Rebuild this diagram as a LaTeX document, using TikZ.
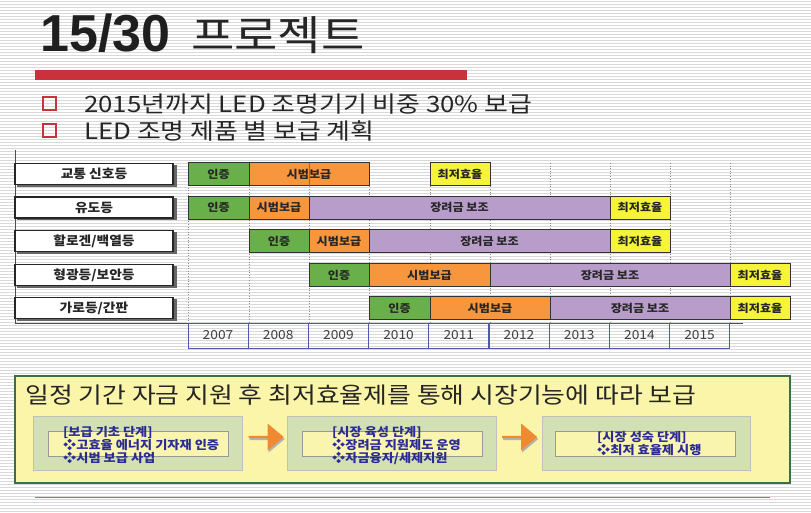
\documentclass[tikz,border=0pt]{standalone}
\usepackage{fontspec}
\setmainfont{Noto Sans CJK KR}
\newfontfamily\latinb{Liberation Sans}
\newfontfamily\wide[FakeStretch=1.15]{Noto Sans CJK KR}
\newfontfamily\wider[FakeStretch=1.1]{Noto Sans CJK KR}
\usetikzlibrary{shapes.arrows}
\definecolor{barG}{HTML}{6AB04A}
\definecolor{barO}{HTML}{F7963C}
\definecolor{barP}{HTML}{B89DCB}
\definecolor{barY}{HTML}{F6F43A}
\definecolor{redbar}{HTML}{C9323C}
\definecolor{yearblue}{HTML}{5057B0}
\definecolor{navy}{HTML}{2B2B96}
\definecolor{paleY}{HTML}{FBF5AA}
\definecolor{stageG}{HTML}{D3E0B4}
\definecolor{innerY}{HTML}{F9F4AE}
\definecolor{frameG}{HTML}{3C6E48}
\definecolor{arrowO}{HTML}{F08A32}
\tikzset{
  stripe/.style={draw=black!15, line width=1pt},
  labelbox/.style={draw=black!85, line width=1.6pt, fill=white, minimum width=158pt, minimum height=21pt, inner sep=0pt, font=\wider\bfseries\fontsize{12.5}{13}\selectfont, text=black!85},
  bar/.style={draw=black!80, line width=0.8pt, minimum height=23pt, inner sep=0pt, font=\wider\bfseries\fontsize{11}{12}\selectfont, text=black!85},
  yearcell/.style={draw=yearblue, line width=0.9pt, minimum width=60pt, minimum height=25pt, inner sep=0pt, font=\wider\fontsize{12.5}{13}\selectfont, text=black!75},
  grid/.style={draw=black!45, dotted, line width=0.6pt},
  stagebox/.style={fill=stageG, draw=black!25, line width=0.6pt, minimum width=209pt, minimum height=54pt, inner sep=0pt},
  innerbox/.style={fill=innerY, draw=black!40, line width=0.8pt, minimum width=180pt, minimum height=25pt, inner sep=0pt},
  stagetext/.style={align=left, font=\wider\bfseries\fontsize{12}{13}\selectfont, text=navy, inner sep=0pt, anchor=north west},
  blockarrow/.style={single arrow, fill=arrowO, draw=none, minimum width=27pt, minimum height=35pt, single arrow head extend=2pt, single arrow tip angle=80, inner sep=0pt}
}
\begin{document}
\begin{tikzpicture}[x=1pt,y=-1pt]
\useasboundingbox (0,0) rectangle (811,512);
\fill[white] (0,0) rectangle (811,512);
\foreach \yy in {1,4,...,511} \draw[stripe] (0,\yy) -- (811,\yy);
% title
\node[anchor=base west, inner sep=0pt, font=\latinb\bfseries\fontsize{52}{52}\selectfont, text=black!88] (t1) at (40,51) {15/30};
\node[anchor=base west, inner sep=0pt, font=\wide\fontsize{41}{41}\selectfont, text=black!85] (t2) at (191,50) {프로젝트};
\fill[redbar] (35,70) rectangle (467,80);
% bullets
\draw[redbar, line width=1.5pt] (43,97) rectangle (56,110);
\draw[redbar, line width=1.5pt] (43,124) rectangle (56,137);
\node[anchor=base west, inner sep=0pt, font=\wide\fontsize{22.5}{22}\selectfont, text=black!85] (b1) at (84,112) {2015년까지 LED 조명기기 비중 30\% 보급};
\node[anchor=base west, inner sep=0pt, font=\wide\fontsize{22.5}{22}\selectfont, text=black!85] (b2) at (84,139) {LED 조명 제품 별 보급 계획};
% frame lines
\draw[black!70, line width=0.8pt] (15,150) -- (15,323) -- (743,323);
% grid
\foreach \xx in {249,309,369,430,490,550,610,670,730} \draw[grid] (\xx,163) -- (\xx,323);
\draw[grid] (188,185) -- (188,323);
% labels
\foreach \n/\yy/\t in {1/174/{교통 신호등}, 2/207.5/{유도등}, 3/241/{할로겐/백열등}, 4/275/{형광등/보안등}, 5/308/{가로등/간판}}{
  \fill[black!60] (17,\yy-9.5) rectangle (177,\yy+12.5);
  \node[labelbox] (lab\n) at (94,\yy) {\t};
}
% row 1
\node[bar, fill=barG, minimum width=61pt] (r1a) at (218.5,174) {인증};
\node[bar, fill=barO, minimum width=120pt] (r1b) at (309,174) {시범보급};
\draw[black!55, line width=0.6pt] (309,162.5) -- (309,185.5);
\node[bar, fill=barY, minimum width=60pt] (r1c) at (460,174) {최저효율};
% row 2
\node[bar, fill=barG, minimum width=61pt] (r2a) at (218.5,207.5) {인증};
\node[bar, fill=barO, minimum width=60pt] (r2b) at (279,207.5) {시범보급};
\node[bar, fill=barP, minimum width=301pt] (r2c) at (459.5,207.5) {장려금 보조};
\node[bar, fill=barY, minimum width=60pt] (r2d) at (640,207.5) {최저효율};
% row 3
\node[bar, fill=barG, minimum width=60pt] (r3a) at (279,241) {인증};
\node[bar, fill=barO, minimum width=60pt] (r3b) at (339,241) {시범보급};
\node[bar, fill=barP, minimum width=241pt] (r3c) at (489.5,241) {장려금 보조};
\node[bar, fill=barY, minimum width=60pt] (r3d) at (640,241) {최저효율};
% row 4
\node[bar, fill=barG, minimum width=60pt] (r4a) at (339,275) {인증};
\node[bar, fill=barO, minimum width=121pt] (r4b) at (429.5,275) {시범보급};
\node[bar, fill=barP, minimum width=240pt] (r4c) at (610,275) {장려금 보조};
\node[bar, fill=barY, minimum width=60pt] (r4d) at (760,275) {최저효율};
% row 5
\node[bar, fill=barG, minimum width=61pt] (r5a) at (399.5,308) {인증};
\node[bar, fill=barO, minimum width=120pt] (r5b) at (490,308) {시범보급};
\node[bar, fill=barP, minimum width=180pt] (r5c) at (640,308) {장려금 보조};
\node[bar, fill=barY, minimum width=60pt] (r5d) at (760,308) {최저효율};
% years
\foreach \i/\yr in {0/2007,1/2008,2/2009,3/2010,4/2011,5/2012,6/2013,7/2014,8/2015}{
  \node[yearcell] (y\yr) at ({218+60.2*\i},335.5) {\yr};
}
% bottom panel
\node[draw=frameG, line width=1.6pt, fill=paleY, minimum width=775pt, minimum height=107pt, inner sep=0pt] (panel) at (402.5,429.5) {};
\node[anchor=base west, inner sep=0pt, font=\wide\fontsize{22.5}{22}\selectfont, text=black!85] (ptitle) at (25,403) {일정 기간 자금 지원 후 최저효율제를 통해 시장기능에 따라 보급};
% stages
\node[stagebox] (s1) at (137.5,443) {};
\node[innerbox] (i1) at (138,443.5) {};
\node[stagetext] (s1t) at (63,426.5) {[보급 기초 단계]\\❖고효율 에너지 기자재 인증\\❖시범 보급 사업};
\node[stagebox] (s2) at (392,443) {};
\node[innerbox] (i2) at (392,443.5) {};
\node[stagetext] (s2t) at (332,426.5) {[시장 육성 단계]\\❖장려금 지원제도 운영\\❖자금융자/세제지원};
\node[stagebox, minimum width=208pt] (s3) at (646,443) {};
\node[innerbox] (i3) at (645.5,443.5) {};
\node[stagetext] (s3t) at (597,431) {[시장 성숙 단계]\\❖최저 효율제 시행};
% arrows
\node[blockarrow, fill=black!30] (a1s) at (266.5,439) {};
\node[blockarrow] (a1) at (265.5,437) {};
\node[blockarrow, fill=black!30] (a2s) at (520,439) {};
\node[blockarrow] (a2) at (519,437) {};
% bottom red line
\draw[redbar!80, line width=1pt] (35,497) -- (770,497);
\end{tikzpicture}
\end{document}
